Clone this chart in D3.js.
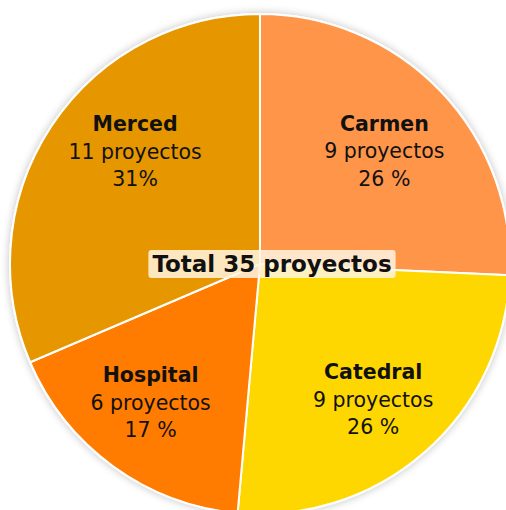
<!DOCTYPE html>
<html>
<head>
<meta charset="utf-8">
<script src="https://cdn.jsdelivr.net/npm/d3@7"></script>
<style>
  html, body { margin: 0; padding: 0; background: #fff; }
  svg { display: block; }
  text { font-family: "DejaVu Sans", Verdana, sans-serif; fill: #111; }
</style>
</head>
<body>
<svg id="chart" width="506" height="510"></svg>
<script>
// Data
const zonas = ["Carmen", "Catedral", "Hospital", "Merced"];
const proyectos = [9, 9, 6, 11];
const porcentajes = ["26 %", "26 %", "17 %", "31%"];
const colores = ["#FF9548", "#FFD700", "#FF7B00", "#E69700"];

document.addEventListener("DOMContentLoaded", function() {

    const cx = 260, cy = 264, radius = 250;

    const data = zonas.map((z, i) => ({zona: z, n: proyectos[i], pct: porcentajes[i], color: colores[i]}));
    const total = d3.sum(proyectos);

    const svg = d3.select("#chart");

    // soft shadow around the pie
    const defs = svg.append("defs");
    const filter = defs.append("filter")
        .attr("id", "shadow")
        .attr("x", "-10%").attr("y", "-10%")
        .attr("width", "120%").attr("height", "120%");
    filter.append("feGaussianBlur").attr("in", "SourceAlpha").attr("stdDeviation", 4);
    filter.append("feComponentTransfer").append("feFuncA").attr("type", "linear").attr("slope", 0.25);
    const merge = filter.append("feMerge");
    merge.append("feMergeNode");
    merge.append("feMergeNode").attr("in", "SourceGraphic");

    const g = svg.append("g")
        .attr("transform", `translate(${cx},${cy})`);

    const pie = d3.pie().sort(null).value(d => d.n);
    const arc = d3.arc().innerRadius(0).outerRadius(radius);
    const labelR = 172;

    const arcs = pie(data);

    const slices = g.append("g").attr("filter", "url(#shadow)");
    slices.selectAll("path")
        .data(arcs)
        .enter()
        .append("path")
        .attr("d", arc)
        .attr("fill", d => d.data.color)
        .attr("stroke", "#fff")
        .attr("stroke-width", 2)
        .attr("stroke-linejoin", "round");

    // Slice labels (some sit a bit further round, as in the original)
    const giro = {Merced: 10 * Math.PI / 180, Hospital: 3.5 * Math.PI / 180};
    function labelPos(d) {
        const a = (d.startAngle + d.endAngle) / 2 + (giro[d.data.zona] || 0);
        return [Math.sin(a) * labelR, -Math.cos(a) * labelR];
    }

    const labels = g.selectAll(".lbl")
        .data(arcs)
        .enter()
        .append("text")
        .attr("class", "lbl")
        .attr("text-anchor", "middle")
        .attr("transform", d => `translate(${labelPos(d)})`)
        .style("font-size", "20.5px");

    labels.append("tspan")
        .attr("x", 0).attr("dy", "-0.7em")
        .style("font-weight", "bold")
        .text(d => d.data.zona);
    labels.append("tspan")
        .attr("x", 0).attr("dy", "1.34em")
        .text(d => `${d.data.n} proyectos`);
    labels.append("tspan")
        .attr("x", 0).attr("dy", "1.34em")
        .text(d => d.data.pct);

    // Total in the middle
    const totalG = g.append("g").attr("transform", "translate(12,0)");
    const totalText = totalG.append("text")
        .attr("text-anchor", "middle")
        .attr("dy", "0.35em")
        .style("font-size", "23px")
        .style("font-weight", "bold")
        .text(`Total ${total} proyectos`);
    const bb = totalText.node().getBBox();
    totalG.insert("rect", "text")
        .attr("x", bb.x - 4)
        .attr("y", bb.y - 1)
        .attr("width", bb.width + 8)
        .attr("height", bb.height + 2)
        .attr("rx", 3)
        .attr("fill", "rgba(255,245,225,0.85)");
});
</script>
</body>
</html>
